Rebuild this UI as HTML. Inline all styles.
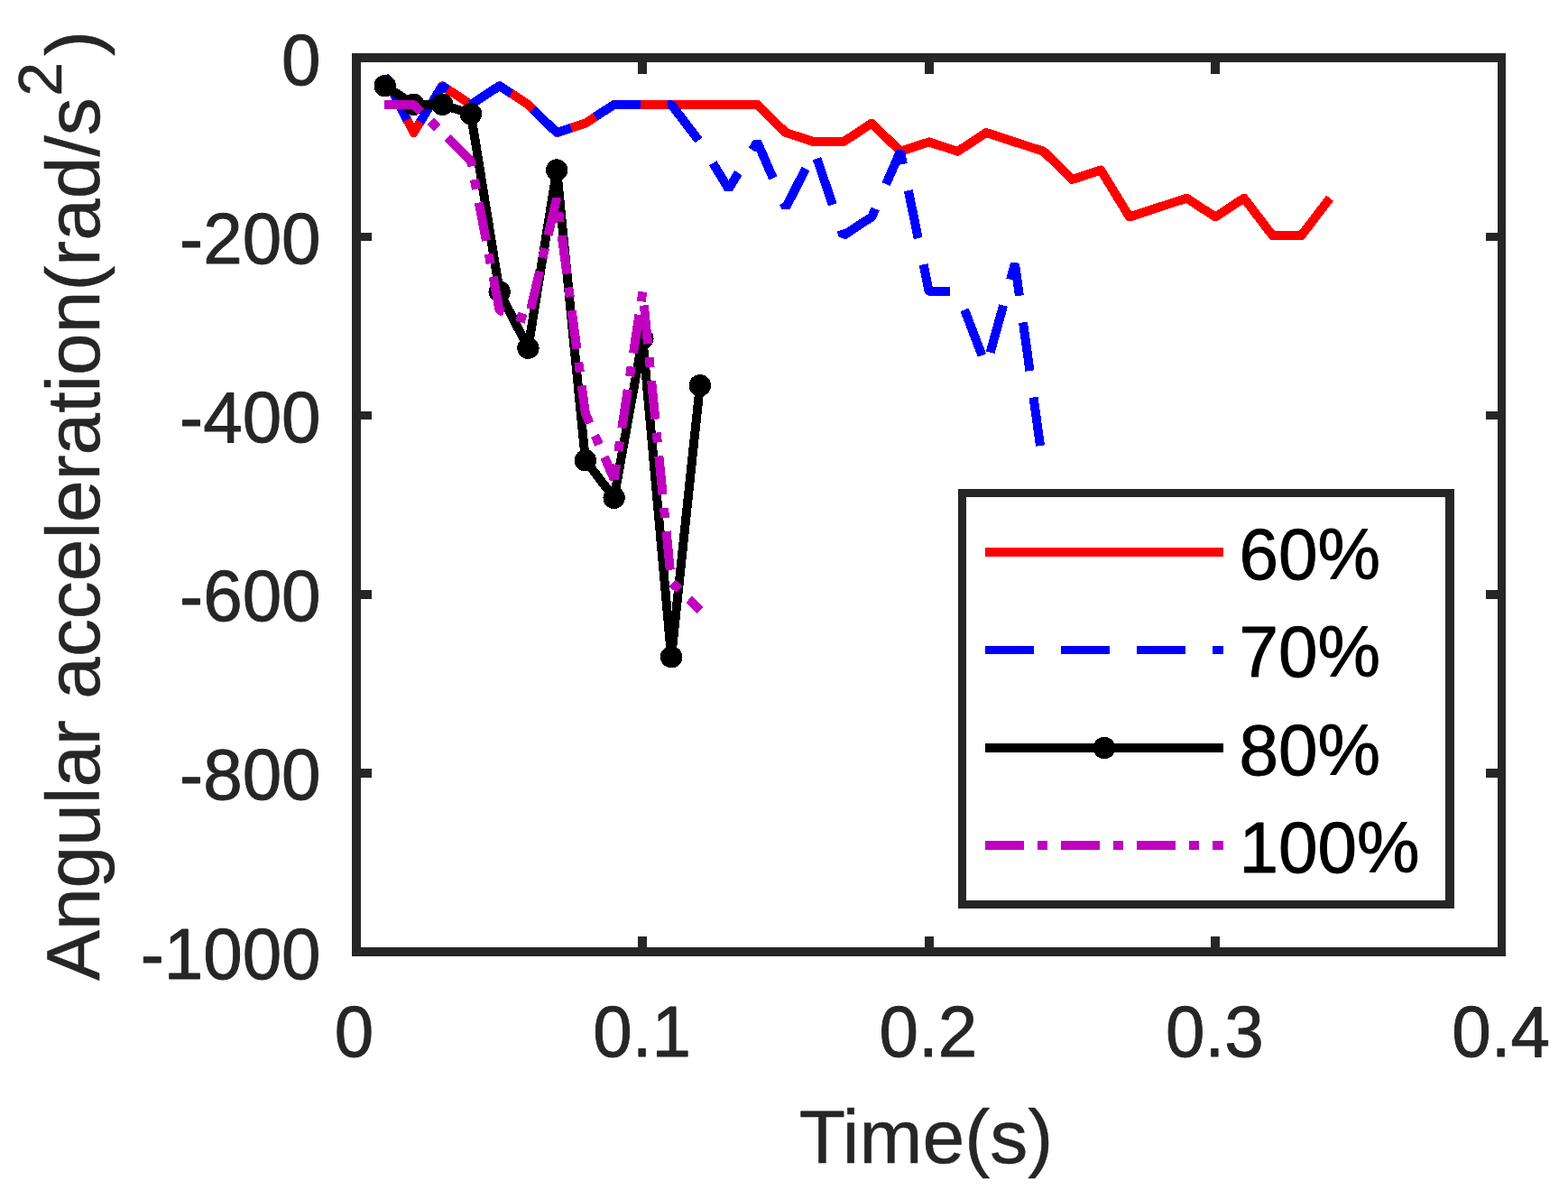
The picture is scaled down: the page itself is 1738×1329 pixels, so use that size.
<!DOCTYPE html>
<html lang="en"><head><meta charset="utf-8"><title>Angular acceleration vs time</title>
<style>html,body{margin:0;padding:0;background:#fff;}body{width:1738px;height:1329px;overflow:hidden;}svg{display:block;font-family:"Liberation Sans",Arial,Helvetica,sans-serif;}</style>
</head><body>
<svg width="1738" height="1329" viewBox="0 0 1738 1329">
<rect x="0" y="0" width="1738" height="1329" fill="#ffffff"/>
<g fill="none" stroke-width="10" stroke-linecap="butt" shape-rendering="crispEdges">
<polyline points="426.74,84.76 458.48,147.02 490.21,95.13 521.95,115.89 553.69,95.13 585.42,115.89 617.16,147.02 648.90,136.64 680.64,115.89 712.38,115.89 744.11,115.89 775.85,115.89 807.59,115.89 839.33,115.89 871.06,147.02 902.80,157.40 934.54,157.40 966.27,136.64 998.01,167.78 1029.75,157.40 1061.49,167.78 1093.22,147.02 1124.96,157.40 1156.70,167.78 1188.44,198.91 1220.18,188.53 1251.91,240.42 1283.65,230.04 1315.39,219.67 1347.12,240.42 1378.86,219.67 1410.60,261.18 1442.34,261.18 1474.08,219.67" stroke="#ff0000" stroke-linejoin="round"/>
<polyline points="426.74,84.76 458.48,147.02 490.21,95.13 521.95,115.89 553.69,95.13 585.42,115.89 617.16,147.02 648.90,136.64 680.64,115.89 712.38,115.89 744.11,115.89 775.85,157.40 807.59,209.29 839.33,157.40 871.06,230.04 902.80,167.78 934.54,261.18 966.27,240.42 998.01,167.78 1029.75,323.44 1061.49,323.44 1093.22,406.47 1124.96,292.31 1156.70,520.62" stroke="#0000ff" stroke-linejoin="bevel" stroke-dasharray="54.1 29.8"/>
<line x1="426.33" y1="83.95" x2="426.83" y2="84.93" stroke="#0000ff"/>
<polyline points="426.74,95.13 458.48,115.89 490.21,115.89 521.95,126.27 553.69,323.44 585.42,385.71 617.16,188.53 648.90,510.24 680.64,551.75 712.38,375.33 744.11,728.18 775.85,427.22" stroke="#000000" stroke-linejoin="round"/>
</g>
<g fill="#000000" shape-rendering="crispEdges">
<circle cx="426.74" cy="95.13" r="12.2"/>
<circle cx="458.48" cy="115.89" r="12.2"/>
<circle cx="490.21" cy="115.89" r="12.2"/>
<circle cx="521.95" cy="126.27" r="12.2"/>
<circle cx="553.69" cy="323.44" r="12.2"/>
<circle cx="585.42" cy="385.71" r="12.2"/>
<circle cx="617.16" cy="188.53" r="12.2"/>
<circle cx="648.90" cy="510.24" r="12.2"/>
<circle cx="680.64" cy="551.75" r="12.2"/>
<circle cx="712.38" cy="375.33" r="12.2"/>
<circle cx="744.11" cy="728.18" r="12.2"/>
<circle cx="775.85" cy="427.22" r="12.2"/>
</g>
<polyline points="426.74,115.89 458.48,115.89 490.21,147.02 521.95,178.16 553.69,344.20 585.42,354.58 617.16,219.67 648.90,458.35 680.64,531.00 712.38,323.44 744.11,645.15 775.85,676.29" fill="none" stroke="#bf00bf" stroke-width="10" stroke-linejoin="bevel" stroke-dasharray="43 14.9 11 15" shape-rendering="crispEdges"/>
<line x1="425.84" y1="115.89" x2="426.94" y2="115.89" fill="none" stroke="#bf00bf" stroke-width="10" shape-rendering="crispEdges"/>
<g fill="#262626" shape-rendering="crispEdges">
<rect x="390" y="59" width="10" height="1001"/>
<rect x="1660" y="59" width="9" height="1001"/>
<rect x="390" y="59" width="1279" height="10"/>
<rect x="390" y="1050" width="1279" height="10"/>
<rect x="707" y="59" width="10" height="23"/>
<rect x="707" y="1038" width="10" height="22"/>
<rect x="1025" y="59" width="10" height="23"/>
<rect x="1025" y="1038" width="10" height="22"/>
<rect x="1342" y="59" width="10" height="23"/>
<rect x="1342" y="1038" width="10" height="22"/>
<rect x="390" y="258" width="22" height="9"/>
<rect x="1647" y="258" width="22" height="9"/>
<rect x="390" y="456" width="22" height="9"/>
<rect x="1647" y="456" width="22" height="9"/>
<rect x="390" y="654" width="22" height="10"/>
<rect x="1647" y="654" width="22" height="10"/>
<rect x="390" y="852" width="22" height="10"/>
<rect x="1647" y="852" width="22" height="10"/>
</g>
<g fill="#262626" stroke="#262626" stroke-width="0.9" stroke-linejoin="round" font-size="78.2">
<text transform="translate(355.60,93.60) scale(1,1.018)" text-anchor="end">0</text>
<text transform="translate(355.60,291.80) scale(1,1.018)" text-anchor="end">-200</text>
<text transform="translate(355.60,490.00) scale(1,1.018)" text-anchor="end">-400</text>
<text transform="translate(355.60,688.20) scale(1,1.018)" text-anchor="end">-600</text>
<text transform="translate(355.60,886.40) scale(1,1.018)" text-anchor="end">-800</text>
<text transform="translate(355.60,1084.60) scale(1,1.018)" text-anchor="end">-1000</text>
<text transform="translate(392.50,1171.00) scale(1,1.018)" text-anchor="middle">0</text>
<text transform="translate(711.58,1171.00) scale(1,1.018)" text-anchor="middle">0.1</text>
<text transform="translate(1028.95,1171.00) scale(1,1.018)" text-anchor="middle">0.2</text>
<text transform="translate(1346.33,1171.00) scale(1,1.018)" text-anchor="middle">0.3</text>
<text transform="translate(1663.70,1171.00) scale(1,1.018)" text-anchor="middle">0.4</text>
</g>
<g fill="#262626" stroke="#262626" stroke-width="0.5" stroke-linejoin="round">
<text x="1026.40" y="1289.00" font-size="84" text-anchor="middle">Time(s)</text>
<text transform="translate(110.00,1087.00) rotate(-90)" font-size="83.85" text-anchor="start">Angular acceleration(rad/s<tspan dx="1.5" dy="-42" font-size="68">2</tspan><tspan dx="7" dy="42">)</tspan></text>
</g>
<g shape-rendering="crispEdges">
<rect x="1062" y="542" width="550" height="465" fill="#262626"/>
<rect x="1071" y="551" width="531" height="447" fill="#ffffff"/>
</g>
<g fill="none" shape-rendering="crispEdges">
<line x1="1092" y1="612" x2="1356" y2="612" stroke="#ff0000" stroke-width="10"/>
<line x1="1092" y1="720.5" x2="1356" y2="720.5" stroke="#0000ff" stroke-width="9" stroke-dasharray="54 30"/>
<line x1="1092" y1="829" x2="1356" y2="829" stroke="#000000" stroke-width="10"/>
<line x1="1092" y1="937" x2="1356" y2="937" stroke="#bf00bf" stroke-width="10" stroke-dasharray="43 15 11 15"/>
<circle cx="1224" cy="829" r="12.2" fill="#000000" stroke="none"/>
</g>
<g fill="#000000" stroke="#000000" stroke-width="0.9" stroke-linejoin="round" font-size="78.2">
<text transform="translate(1373.50,642.00) scale(1,1.018)">60%</text>
<text transform="translate(1373.50,750.40) scale(1,1.018)">70%</text>
<text transform="translate(1373.50,859.10) scale(1,1.018)">80%</text>
<text transform="translate(1373.50,966.80) scale(1,1.018)">100%</text>
</g>
</svg>
</body></html>
